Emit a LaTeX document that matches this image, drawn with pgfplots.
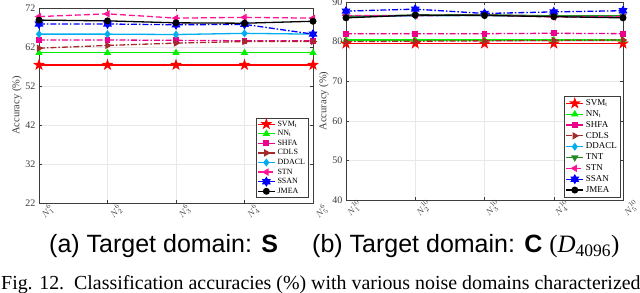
\documentclass[border=0pt]{standalone}
\usepackage{fontspec}
\setmainfont{Liberation Serif}
\newfontfamily\capfont{Liberation Sans}
\usepackage{pgfplots}
\pgfplotsset{compat=1.18}
\usetikzlibrary{plotmarks}

\definecolor{cdls}{RGB}{165,42,42}
\definecolor{tnt}{RGB}{34,139,34}
\definecolor{stn}{RGB}{255,20,147}
\definecolor{nnt}{RGB}{0,240,0}
\definecolor{axgray}{RGB}{60,60,60}

\pgfdeclareplotmark{pentagram}{%
  \pgfpathmoveto{\pgfpointpolar{90}{1.4\pgfplotmarksize}}%
  \pgfpathlineto{\pgfpointpolar{126}{0.55\pgfplotmarksize}}%
  \pgfpathlineto{\pgfpointpolar{162}{1.4\pgfplotmarksize}}%
  \pgfpathlineto{\pgfpointpolar{198}{0.55\pgfplotmarksize}}%
  \pgfpathlineto{\pgfpointpolar{234}{1.4\pgfplotmarksize}}%
  \pgfpathlineto{\pgfpointpolar{270}{0.55\pgfplotmarksize}}%
  \pgfpathlineto{\pgfpointpolar{306}{1.4\pgfplotmarksize}}%
  \pgfpathlineto{\pgfpointpolar{342}{0.55\pgfplotmarksize}}%
  \pgfpathlineto{\pgfpointpolar{18}{1.4\pgfplotmarksize}}%
  \pgfpathlineto{\pgfpointpolar{54}{0.55\pgfplotmarksize}}%
  \pgfpathclose\pgfusepathqfillstroke}
\pgfdeclareplotmark{hexagram}{%
  \pgfpathmoveto{\pgfpointpolar{90}{1.3\pgfplotmarksize}}%
  \pgfpathlineto{\pgfpointpolar{120}{0.75\pgfplotmarksize}}%
  \pgfpathlineto{\pgfpointpolar{150}{1.3\pgfplotmarksize}}%
  \pgfpathlineto{\pgfpointpolar{180}{0.75\pgfplotmarksize}}%
  \pgfpathlineto{\pgfpointpolar{210}{1.3\pgfplotmarksize}}%
  \pgfpathlineto{\pgfpointpolar{240}{0.75\pgfplotmarksize}}%
  \pgfpathlineto{\pgfpointpolar{270}{1.3\pgfplotmarksize}}%
  \pgfpathlineto{\pgfpointpolar{300}{0.75\pgfplotmarksize}}%
  \pgfpathlineto{\pgfpointpolar{330}{1.3\pgfplotmarksize}}%
  \pgfpathlineto{\pgfpointpolar{0}{0.75\pgfplotmarksize}}%
  \pgfpathlineto{\pgfpointpolar{30}{1.3\pgfplotmarksize}}%
  \pgfpathlineto{\pgfpointpolar{60}{0.75\pgfplotmarksize}}%
  \pgfpathclose\pgfusepathqfillstroke}

\pgfplotsset{
  sSVM/.style={red, line width=1.3pt, mark=pentagram, mark size=3pt, mark options={solid, fill=red}},
  sNN/.style={nnt, line width=1.3pt, mark=triangle*, mark size=3pt, mark options={solid, fill=nnt}},
  sSHFA/.style={magenta, line width=1.3pt, dash pattern=on 6pt off 2pt on 1.5pt off 2pt, mark=square*, mark size=2.3pt, mark options={solid, fill=magenta}},
  sCDLS/.style={cdls, line width=1.3pt, dash pattern=on 6pt off 2pt on 1.5pt off 2pt, mark=triangle*, mark size=3pt, mark options={solid, fill=cdls, rotate=-90}},
  sDDACL/.style={cyan, line width=1.3pt, mark=diamond*, mark size=3pt, mark options={solid, fill=cyan}},
  sTNT/.style={tnt, line width=1.3pt, mark=triangle*, mark size=3pt, mark options={solid, fill=tnt, rotate=180}},
  sSTN/.style={stn, line width=1.3pt, dash pattern=on 6pt off 3pt, mark=triangle*, mark size=3pt, mark options={solid, fill=stn, rotate=90}},
  sSSAN/.style={blue, line width=1.3pt, dash pattern=on 6pt off 2pt on 1.5pt off 2pt, mark=hexagram, mark size=3pt, mark options={solid, fill=blue}},
  sJMEA/.style={black, line width=1.3pt, mark=*, mark size=2.8pt, mark options={solid, fill=black}},
  common/.style={
    scale only axis, anchor=south west,
    xmin=1, xmax=5, xtick={1,2,3,4,5},
    grid=major, grid style={gray!18, line width=0.4pt},
    tick align=inside, major tick length=3pt,
    axis line style={axgray, line width=0.6pt},
    tick style={axgray, line width=0.5pt},
    every tick label/.append style={text=axgray},
    /pgf/number format/assume math mode=true,
    yticklabel style={font=\fontsize{10}{12}\selectfont},
    x tick label style={font=\fontsize{9.5}{11}\selectfont, rotate=45, anchor=center, yshift=-12pt},
    ylabel={Accuracy (\%)},
    ylabel style={font=\fontsize{10.5}{12}\selectfont, text=axgray, yshift=-3pt},
    legend cell align=left,
  },
}

\begin{document}
\begin{tikzpicture}
\useasboundingbox (0,0) rectangle (640pt,292pt);

\begin{axis}[common, at={(39pt,89pt)}, width=274pt, height=195pt,
  ymin=22, ymax=72, ytick={22,32,42,52,62,72},
  xticklabels={$N^{6}_{1}$,$N^{6}_{2}$,$N^{6}_{3}$,$N^{6}_{4}$,$N^{6}_{5}$},
  legend style={at={(0.983,0.026)}, anchor=south east, font=\fontsize{8}{9}\selectfont,
    draw=axgray, line width=0.5pt, inner sep=1pt, row sep=-1.2pt},
]
\addplot[sSVM] coordinates {(1,57.4)(2,57.4)(3,57.4)(4,57.4)(5,57.4)};
\addlegendentry{SVM\textsubscript{t}}
\addplot[sNN] coordinates {(1,60.5)(2,60.5)(3,60.5)(4,60.5)(5,60.5)};
\addlegendentry{NN\textsubscript{t}}
\addplot[sSHFA] coordinates {(1,63.8)(2,63.8)(3,63.7)(4,63.6)(5,63.6)};
\addlegendentry{SHFA}
\addplot[sCDLS] coordinates {(1,61.7)(2,62.4)(3,63.0)(4,63.4)(5,63.4)};
\addlegendentry{CDLS}
\addplot[sDDACL] coordinates {(1,65.3)(2,65.3)(3,65.2)(4,65.5)(5,65.3)};
\addlegendentry{DDACL}
\addplot[sSTN] coordinates {(1,69.8)(2,70.5)(3,69.4)(4,69.6)(5,69.4)};
\addlegendentry{STN}
\addplot[sSSAN] coordinates {(1,67.9)(2,67.9)(3,67.7)(4,67.8)(5,65.3)};
\addlegendentry{SSAN}
\addplot[sJMEA] coordinates {(1,68.9)(2,68.7)(3,68.2)(4,68.1)(5,68.6)};
\addlegendentry{JMEA}
\end{axis}

\begin{axis}[common, at={(346pt,92pt)}, width=277pt, height=198pt,
  ymin=40, ymax=90, ytick={40,50,60,70,80,90},
  xticklabels={$N^{10}_{1}$,$N^{10}_{2}$,$N^{10}_{3}$,$N^{10}_{4}$,$N^{10}_{5}$},
  legend style={at={(0.99,0.015)}, anchor=south east, font=\fontsize{9}{10.5}\selectfont,
    draw=axgray, line width=0.5pt, inner sep=1pt, row sep=-0.6pt},
]
\addplot[sSVM] coordinates {(1,79.5)(2,79.5)(3,79.5)(4,79.5)(5,79.5)};
\addlegendentry{SVM\textsubscript{t}}
\addplot[sNN] coordinates {(1,80.4)(2,80.4)(3,80.4)(4,80.4)(5,80.4)};
\addlegendentry{NN\textsubscript{t}}
\addplot[sSHFA] coordinates {(1,82.0)(2,82.0)(3,82.0)(4,82.1)(5,82.0)};
\addlegendentry{SHFA}
\addplot[sCDLS] coordinates {(1,80.0)(2,80.1)(3,80.2)(4,80.3)(5,80.4)};
\addlegendentry{CDLS}
\addplot[sDDACL] coordinates {(1,86.3)(2,86.5)(3,86.6)(4,86.4)(5,86.2)};
\addlegendentry{DDACL}
\addplot[sTNT] coordinates {(1,86.4)(2,86.7)(3,86.8)(4,86.5)(5,86.5)};
\addlegendentry{TNT}
\addplot[sSTN] coordinates {(1,86.6)(2,86.5)(3,86.7)(4,86.2)(5,86.3)};
\addlegendentry{STN}
\addplot[sSSAN] coordinates {(1,87.7)(2,88.2)(3,87.1)(4,87.5)(5,87.8)};
\addlegendentry{SSAN}
\addplot[sJMEA] coordinates {(1,86.0)(2,86.7)(3,86.6)(4,86.3)(5,86.0)};
\addlegendentry{JMEA}
\end{axis}

\node[anchor=base west, inner sep=0pt, font=\capfont\fontsize{25}{30}\selectfont] at (49pt,39pt)
  {(a) Target domain: \textbf{S}};
\node[anchor=base west, inner sep=0pt, font=\capfont\fontsize{25}{30}\selectfont] at (312pt,39pt)
  {(b) Target domain: \textbf{C} {\rmfamily(\textit{D}\textsubscript{4096})}};
\node[anchor=base west, inner sep=0pt, font=\fontsize{19.9}{22}\selectfont] at (1pt,2pt)
  {Fig. 12.\ \ Classification accuracies (\%) with various noise domains characterized};
\end{tikzpicture}
\end{document}
